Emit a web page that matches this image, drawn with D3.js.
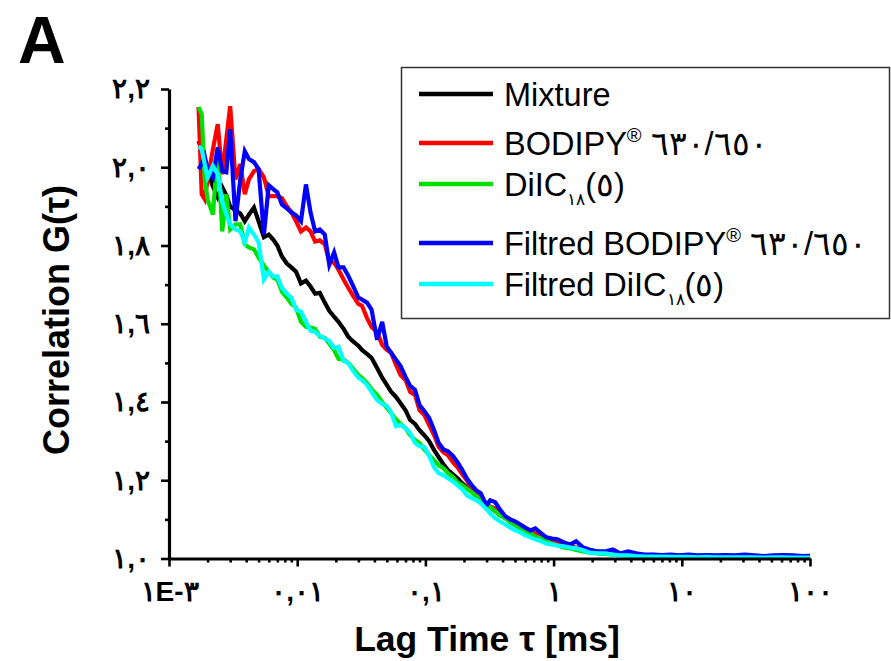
<!DOCTYPE html>
<html>
<head>
<meta charset="utf-8">
<script src="https://cdn.jsdelivr.net/npm/d3@7"></script>
<style>
body { margin: 0; background: #fff; }
svg text { font-family: "Liberation Sans", Arial, sans-serif; direction: ltr; unicode-bidi: bidi-override; }
</style>
</head>
<body>
<div id="main"></div>
<script>
// Lag times of the correlator channels (ms)
var lagTime = [0.0017,0.0018,0.0019,0.0020,0.0022,0.0024,0.0026,0.0028,0.0030,0.0033,
	0.0036,0.0039,0.0042,0.0046,0.0050,0.0055,0.0060,0.0065,0.0070,0.0076,
	0.0083,0.0090,0.0098,0.0107,0.0117,0.0127,0.0138,0.0150,0.0164,0.0178,
	0.0194,0.021,0.023,0.025,0.027,0.030,0.032,0.035,0.038,0.042,
	0.046,0.050,0.054,0.059,0.064,0.070,0.076,0.083,0.090,0.098,
	0.107,0.117,0.127,0.138,0.150,0.164,0.178,0.194,0.21,0.23,
	0.25,0.27,0.30,0.32,0.35,0.38,0.42,0.46,0.50,0.55,
	0.60,0.66,0.72,0.80,0.88,0.97,1.07,1.2,1.35,1.5,
	1.7,1.9,2.2,2.5,2.9,3.3,3.8,4.4,5.1,6,
	7,8.2,9.6,11.3,13.3,15.7,18.6,22,26,31,
	37,44,52,62,74,88,100];

// G(tau) of each sample
var mixture = [2.067,2.046,2.013,1.990,1.951,1.923,1.949,1.928,1.900,1.890,
	1.882,1.862,1.879,1.897,1.862,1.821,1.828,1.815,1.800,1.772,
	1.754,1.744,1.733,1.703,1.710,1.695,1.677,1.679,1.654,1.633,
	1.618,1.605,1.587,1.567,1.556,1.544,1.533,1.523,1.513,1.487,
	1.462,1.444,1.426,1.413,1.397,1.379,1.354,1.344,1.328,1.315,
	1.300,1.277,1.259,1.241,1.226,1.215,1.205,1.192,1.182,1.172,
	1.162,1.151,1.138,1.131,1.121,1.113,1.103,1.095,1.087,1.079,
	1.072,1.067,1.059,1.051,1.046,1.041,1.036,1.031,1.028,1.023,
	1.021,1.018,1.015,1.013,1.012,1.010,1.010,1.008,1.008,1.007,
	1.007,1.006,1.007,1.006,1.006,1.005,1.006,1.005,1.005,1.006,
	1.005,1.005,1.004,1.005,1.005,1.004,1.005];

var bodipy = [2.154,1.931,1.918,1.969,2.046,2.110,1.982,2.072,2.156,1.969,
	2.008,1.931,1.969,1.990,1.995,1.974,1.926,1.926,1.926,1.921,
	1.900,1.885,1.862,1.836,1.846,1.836,1.810,1.813,1.803,1.759,
	1.756,1.738,1.713,1.692,1.674,1.651,1.646,1.615,1.592,1.579,
	1.546,1.533,1.526,1.495,1.469,1.456,1.426,1.418,1.379,1.367,
	1.341,1.315,1.285,1.272,1.264,1.246,1.233,1.215,1.200,1.179,
	1.167,1.156,1.136,1.133,1.128,1.115,1.105,1.097,1.090,1.082,
	1.077,1.067,1.064,1.056,1.049,1.046,1.041,1.036,1.031,1.028,
	1.023,1.021,1.018,1.015,1.013,1.012,1.010,1.010,1.008,1.009,
	1.007,1.008,1.007,1.006,1.007,1.006,1.006,1.007,1.005,1.006,
	1.005,1.006,1.005,1.005,1.006,1.005,1.005];

var diic = [2.154,2.136,1.969,1.918,1.879,2.046,1.836,1.931,1.841,1.854,
	1.854,1.803,1.795,1.790,1.769,1.749,1.733,1.718,1.713,1.682,
	1.667,1.651,1.641,1.605,1.592,1.590,1.587,1.567,1.564,1.549,
	1.533,1.510,1.508,1.500,1.487,1.469,1.462,1.449,1.433,1.418,
	1.400,1.385,1.372,1.356,1.344,1.333,1.315,1.303,1.295,1.279,
	1.264,1.251,1.238,1.231,1.218,1.208,1.195,1.187,1.179,1.169,
	1.159,1.151,1.138,1.131,1.121,1.110,1.103,1.092,1.085,1.077,
	1.069,1.064,1.056,1.051,1.044,1.038,1.033,1.028,1.026,1.022,
	1.018,1.015,1.013,1.012,1.010,1.009,1.008,1.007,1.007,1.006,
	1.006,1.005,1.006,1.005,1.005,1.004,1.005,1.004,1.004,1.005,
	1.004,1.004,1.004,1.003,1.004,1.004,1.004];

var filtBodipy = [1.995,2.008,2.028,1.995,1.974,2.051,1.990,1.987,2.097,1.862,
	1.969,2.041,2.021,2.013,1.995,1.828,1.954,1.944,1.936,1.905,
	1.895,1.885,1.877,1.862,1.956,1.885,1.836,1.841,1.828,1.751,
	1.782,1.744,1.744,1.723,1.700,1.667,1.662,1.654,1.636,1.559,
	1.605,1.541,1.526,1.508,1.492,1.464,1.441,1.431,1.392,1.377,
	1.359,1.328,1.295,1.279,1.274,1.262,1.246,1.226,1.205,1.187,
	1.174,1.167,1.136,1.149,1.144,1.126,1.108,1.100,1.095,1.087,
	1.079,1.072,1.077,1.064,1.054,1.051,1.049,1.041,1.036,1.044,
	1.028,1.023,1.018,1.018,1.023,1.013,1.018,1.013,1.010,1.010,
	1.009,1.010,1.008,1.010,1.008,1.009,1.008,1.009,1.008,1.010,
	1.008,1.006,1.008,1.009,1.008,1.006,1.007];

var filtDiic = [2.054,2.046,2.008,1.974,2.003,1.982,1.913,1.879,1.854,1.841,
	1.836,1.808,1.846,1.828,1.808,1.713,1.733,1.721,1.721,1.692,
	1.677,1.667,1.636,1.631,1.605,1.582,1.579,1.569,1.562,1.556,
	1.538,1.541,1.505,1.500,1.482,1.462,1.456,1.444,1.426,1.405,
	1.395,1.390,1.374,1.338,1.341,1.333,1.321,1.295,1.287,1.285,
	1.262,1.233,1.218,1.213,1.205,1.197,1.187,1.177,1.162,1.154,
	1.149,1.141,1.126,1.115,1.103,1.095,1.087,1.079,1.072,1.067,
	1.059,1.054,1.049,1.044,1.038,1.036,1.033,1.031,1.028,1.026,
	1.021,1.015,1.013,1.013,1.010,1.008,1.008,1.006,1.005,1.005,
	1.005,1.004,1.004,1.004,1.003,1.004,1.003,1.003,1.003,1.003,
	1.003,1.002,1.003,1.003,1.002,1.002,1.002];

// Ticks and their labels
var xTickValues = [0.001, 0.01, 0.1, 1, 10, 100];
var xTickLabels = ["١E-٣", "٠,٠١", "٠,١", "١", "١٠", "١٠٠"];
var yTickValues = [1.0, 1.2, 1.4, 1.6, 1.8, 2.0, 2.2];
var yTickLabels = ["١,٠", "١,٢", "١,٤", "١,٦", "١,٨", "٢,٠", "٢,٢"];

// Legend texts: [text, kind] where kind is n (normal), sup or sub
var legendNames = [
	[["Mixture", "n"]],
	[["BODIPY", "n"], ["®", "sup"], [" ٦٣٠/٦٥٠", "n"]],
	[["DiIC", "n"], ["١٨", "sub"], ["(٥)", "n"]],
	[["Filtred BODIPY", "n"], ["®", "sup"], [" ٦٣٠/٦٥٠", "n"]],
	[["Filtred DiIC", "n"], ["١٨", "sub"], ["(٥)", "n"]]
];
var seriesList = [mixture, bodipy, diic, filtBodipy, filtDiic];
var seriesColors = ["#000000", "#ff0000", "#00e000", "#0000ff", "#00ffff"];

// Layout
var width = 891, height = 661;
var legendRowY = [94, 143, 184, 243, 284];

var svg = d3.select("#main").append("svg")
	.attr("width", width)
	.attr("height", height)
	.attr("style", "background-color: #fff;");

var xScale = d3.scaleLog().domain([0.001, 100]).range([169, 810]);
var yScale = d3.scaleLinear().domain([1.0, 2.2]).range([558.5, 89]);

// Data lines
var line = d3.line()
	.x(function(d, i) { return xScale(lagTime[i]); })
	.y(function(d) { return yScale(d); });

seriesList.forEach(function(s, k) {
	svg.append("path")
		.attr("d", line(s))
		.attr("fill", "none")
		.attr("stroke", seriesColors[k])
		.attr("stroke-width", 4.2)
		.attr("stroke-linejoin", "miter");
});

// Minor ticks
var xMinor = xScale.ticks().filter(function(t) { return xTickValues.indexOf(t) < 0; });
var yMinor = [1.1, 1.3, 1.5, 1.7, 1.9, 2.1];

var gx = svg.append("g").attr("transform", "translate(0,558.5)");
gx.call(d3.axisBottom(xScale).tickValues(xMinor).tickSize(4).tickSizeOuter(0).tickFormat(""));
gx.call(function(g) { g.selectAll(".domain").remove(); });
var gx2 = svg.append("g").attr("transform", "translate(0,558.5)");
gx2.call(d3.axisBottom(xScale).tickValues(xTickValues).tickSize(8).tickSizeOuter(0).tickPadding(15)
	.tickFormat(function(d, i) { return xTickLabels[i]; }));

var gy = svg.append("g").attr("transform", "translate(169,0)");
gy.call(d3.axisLeft(yScale).tickValues(yMinor).tickSize(4).tickSizeOuter(0).tickFormat(""));
gy.call(function(g) { g.selectAll(".domain").remove(); });
var gy2 = svg.append("g").attr("transform", "translate(169,0)");
gy2.call(d3.axisLeft(yScale).tickValues(yTickValues).tickSize(8).tickSizeOuter(0).tickPadding(11)
	.tickFormat(function(d, i) { return yTickLabels[i]; }));

svg.selectAll(".domain").attr("stroke", "#000").attr("stroke-width", 3.2);
svg.selectAll(".tick line").attr("stroke", "#000").attr("stroke-width", 2.6);
svg.selectAll(".tick text")
	.attr("fill", "#000")
	.attr("font-size", 28)
	.attr("font-weight", "bold")
	.attr("font-family", "'DejaVu Sans', 'Liberation Sans', sans-serif");

// Axis titles
svg.append("text")
	.attr("x", 487)
	.attr("y", 651)
	.attr("text-anchor", "middle")
	.attr("font-size", 35.5)
	.attr("font-weight", "bold")
	.text("Lag Time τ [ms]");

svg.append("text")
	.attr("transform", "translate(69,320) rotate(-90)")
	.attr("text-anchor", "middle")
	.attr("font-size", 36)
	.attr("font-weight", "bold")
	.text("Correlation G(τ)");

// Panel letter
svg.append("text")
	.attr("x", 18)
	.attr("y", 63)
	.attr("font-size", 66)
	.attr("font-weight", "bold")
	.text("A");

// Legend
svg.append("rect")
	.attr("x", 401.5)
	.attr("y", 67.5)
	.attr("width", 488)
	.attr("height", 251)
	.attr("fill", "none")
	.attr("stroke", "#333")
	.attr("stroke-width", 1.5);

legendNames.forEach(function(parts, k) {
	var ly = legendRowY[k];
	svg.append("line")
		.attr("x1", 419)
		.attr("x2", 493)
		.attr("y1", ly)
		.attr("y2", ly)
		.attr("stroke", seriesColors[k])
		.attr("stroke-width", 4.5);

	var t = svg.append("text")
		.attr("x", 504)
		.attr("y", ly + 12)
		.attr("font-size", 32.5);

	// Each part is raised or lowered relative to the baseline
	var dyAcc = 0;
	parts.forEach(function(p) {
		var span = t.append("tspan").text(p[0]);
		var target = 0;
		if(p[1] === "sup") { span.attr("font-size", 20); target = -13; }
		else if(p[1] === "sub") { span.attr("font-size", 17); target = 9; }
		span.attr("dy", target - dyAcc);
		dyAcc = target;
	});
});
</script>
</body>
</html>
